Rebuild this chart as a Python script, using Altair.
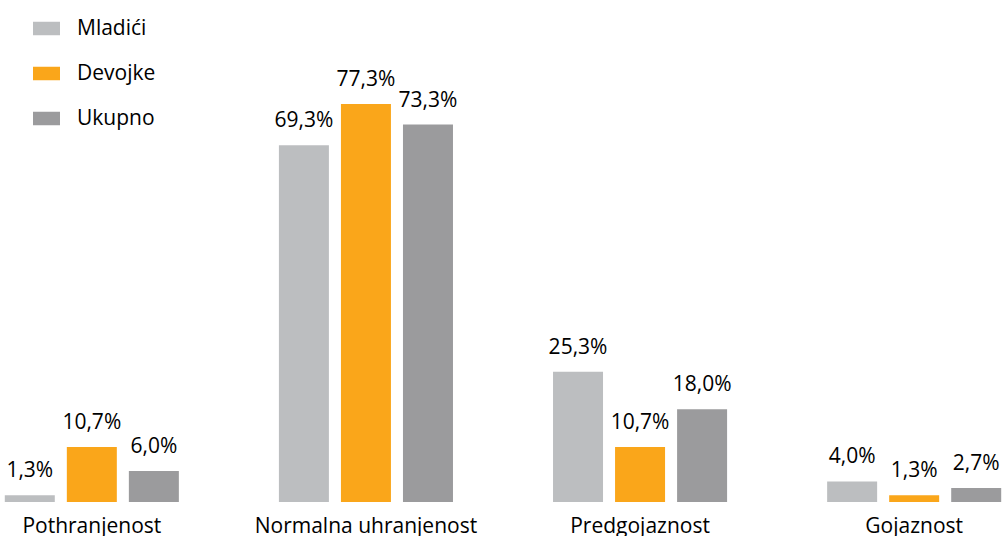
import altair as alt
import pandas as pd

categories = ["Pothranjenost", "Normalna uhranjenost", "Predgojaznost", "Gojaznost"]
series = ["Mladići", "Devojke", "Ukupno"]
mladici = [1.3, 69.3, 25.3, 4.0]
devojke = [10.7, 77.3, 10.7, 1.3]
ukupno = [6.0, 73.3, 18.0, 2.7]
colors = ["#BCBEC0", "#FAA61A", "#9B9B9D"]

rows = []
for s, vals in zip(series, [mladici, devojke, ukupno]):
    for c, v in zip(categories, vals):
        rows.append({"kat": c, "grupa": s, "vrednost": v,
                     "oznaka": f"{v:.1f}".replace(".", ",") + "%"})
df = pd.DataFrame(rows)

FONT = "Open Sans"

x = alt.X("kat:N", sort=categories, title=None,
          scale=alt.Scale(paddingInner=0.365, paddingOuter=0.0175),
          axis=alt.Axis(domain=False, ticks=False, grid=False, labelAngle=0, labelFontSize=21,
                        labelFont=FONT, labelColor="#000000", labelPadding=13,
                        labelLimit=0, labelFontWeight="normal"))
xo = alt.XOffset("grupa:N", sort=series,
                 scale=alt.Scale(paddingInner=0.194, paddingOuter=0))
y = alt.Y("vrednost:Q", title=None, scale=alt.Scale(domain=[0, 97.5], nice=False, zero=True),
          axis=None)

bars = alt.Chart(df).mark_bar().encode(
    x=x, xOffset=xo, y=y,
    color=alt.Color("grupa:N", sort=series,
                    scale=alt.Scale(domain=series, range=colors),
                    legend=alt.Legend(title=None, orient="none", legendX=33, legendY=15,
                                      symbolType="M-1,-0.5H1V0.5H-1Z", symbolSize=729,
                                      symbolStrokeWidth=0, labelFontSize=21, labelFont=FONT,
                                      labelColor="#000000", labelOffset=17, rowPadding=21,
                                      padding=0)),
)

labels = alt.Chart(df).mark_text(baseline="alphabetic", dy=-18, fontSize=21, font=FONT,
                                 color="#000000").encode(
    x=x, xOffset=xo, y=y, text="oznaka:N"
)

chart = (bars + labels).properties(
    width=1006, height=502,
    background="#ffffff",
    autosize=alt.AutoSizeParams(type="none"),
    padding={"left": 0, "top": 0, "right": 0, "bottom": 34},
).configure_view(stroke=None, strokeWidth=0)

chart.save("out.html", embed_options={"renderer": "svg", "actions": False})
